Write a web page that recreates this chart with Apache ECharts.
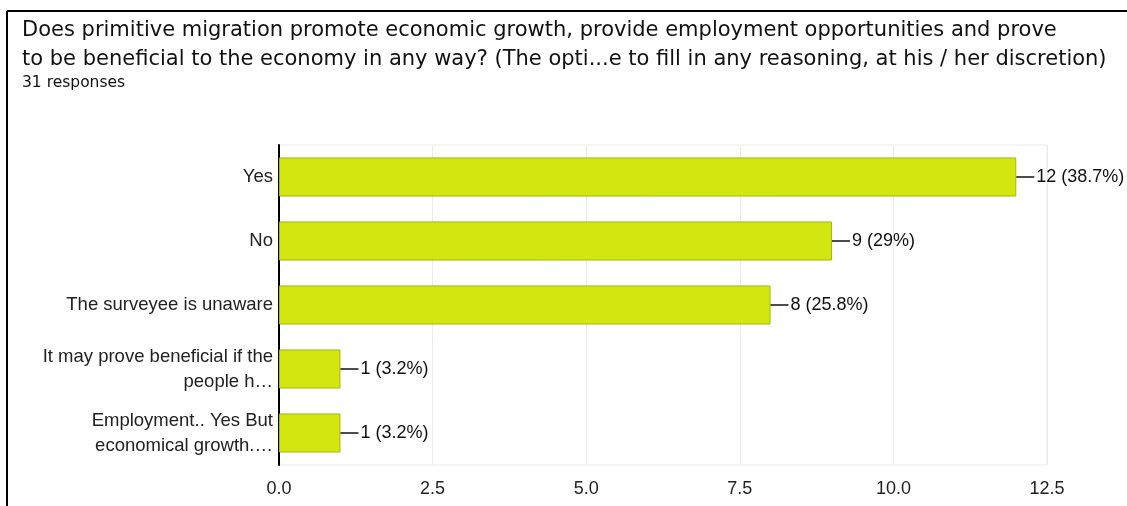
<!DOCTYPE html>
<html>
<head>
<meta charset="utf-8">
<script src="https://cdn.jsdelivr.net/npm/echarts@6/dist/echarts.min.js"></script>
<style>
  html, body { margin: 0; padding: 0; background: #fff; }
  #chart { width: 1127px; height: 506px; }
</style>
</head>
<body>
<div id="chart"></div>
<script>
// Survey answers and response counts
const categories = [
  'Yes',
  'No',
  'The surveyee is unaware',
  'It may prove beneficial if the\npeople h\u2026',
  'Employment.. Yes But\neconomical growth.\u2026'
];
const counts = [12, 9, 8, 1, 1];
const totalResponses = 31;
const xTicks = [0, 2.5, 5, 7.5, 10, 12.5];

const titleLines = [
  'Does primitive migration promote economic growth, provide employment opportunities and prove',
  'to be beneficial to the economy in any way? (The opti...e to fill in any reasoning, at his / her discretion)'
];
const subtitle = totalResponses + ' responses';

function pct(v) {
  const p = Math.round(v / totalResponses * 1000) / 10;
  return (p % 1 === 0 ? p.toFixed(0) : p.toFixed(1)) + '%';
}

const chart = echarts.init(document.getElementById('chart'), null, { renderer: 'canvas' });

chart.setOption({
  backgroundColor: '#ffffff',
  animation: false,
  title: {
    text: titleLines.join('\n'),
    subtext: subtitle,
    left: 17,
    top: 11,
    itemGap: 0,
    padding: [5, 5, 5, 5],
    textStyle: {
      fontFamily: 'DejaVu Sans',
      fontWeight: 'normal',
      fontSize: 21,
      lineHeight: 29,
      color: '#111'
    },
    subtextStyle: {
      fontFamily: 'DejaVu Sans',
      fontSize: 15.5,
      lineHeight: 18,
      color: '#111'
    }
  },
  graphic: [
    { type: 'line', shape: { x1: 7, y1: 11, x2: 1127, y2: 11 }, style: { stroke: '#000', lineWidth: 2 }, z: 100 },
    { type: 'line', shape: { x1: 7, y1: 11, x2: 7, y2: 506 }, style: { stroke: '#000', lineWidth: 2 }, z: 100 }
  ],
  grid: {
    left: 279,
    width: 768,
    top: 145,
    height: 320,
    show: true,
    borderColor: '#ebebeb',
    borderWidth: 1
  },
  xAxis: {
    type: 'value',
    min: 0,
    max: 12.5,
    interval: 2.5,
    axisLine: { show: false },
    axisTick: { show: false },
    splitLine: { show: true, lineStyle: { color: '#ebebeb', width: 1 } },
    axisLabel: {
      margin: 15,
      fontFamily: 'Liberation Sans',
      fontSize: 18,
      color: '#222',
      formatter: v => xTicks.includes(v) ? v.toFixed(1) : ''
    }
  },
  yAxis: {
    type: 'category',
    data: categories,
    inverse: true,
    axisLine: { show: true, lineStyle: { color: '#000', width: 2 } },
    axisTick: { show: false },
    axisLabel: {
      margin: 6,
      fontFamily: 'Liberation Sans',
      fontSize: 18.5,
      lineHeight: 25,
      color: '#222',
      align: 'right'
    }
  },
  series: [{
    type: 'bar',
    data: counts,
    barCategoryGap: '39%',
    itemStyle: {
      color: '#d3e60f',
      borderColor: '#a0bc00',
      borderWidth: 1
    },
    label: {
      show: true,
      position: 'right',
      distance: 0,
      formatter: p => '{lead|}{txt|' + p.value + ' (' + pct(p.value) + ')}',
      rich: {
        lead: {
          width: 18,
          height: 1.5,
          backgroundColor: '#111',
          verticalAlign: 'middle'
        },
        txt: {
          fontFamily: 'Liberation Sans',
          fontSize: 18,
          color: '#111',
          padding: [0, 0, 0, 2],
          verticalAlign: 'middle'
        }
      }
    }
  }]
});
</script>
</body>
</html>
